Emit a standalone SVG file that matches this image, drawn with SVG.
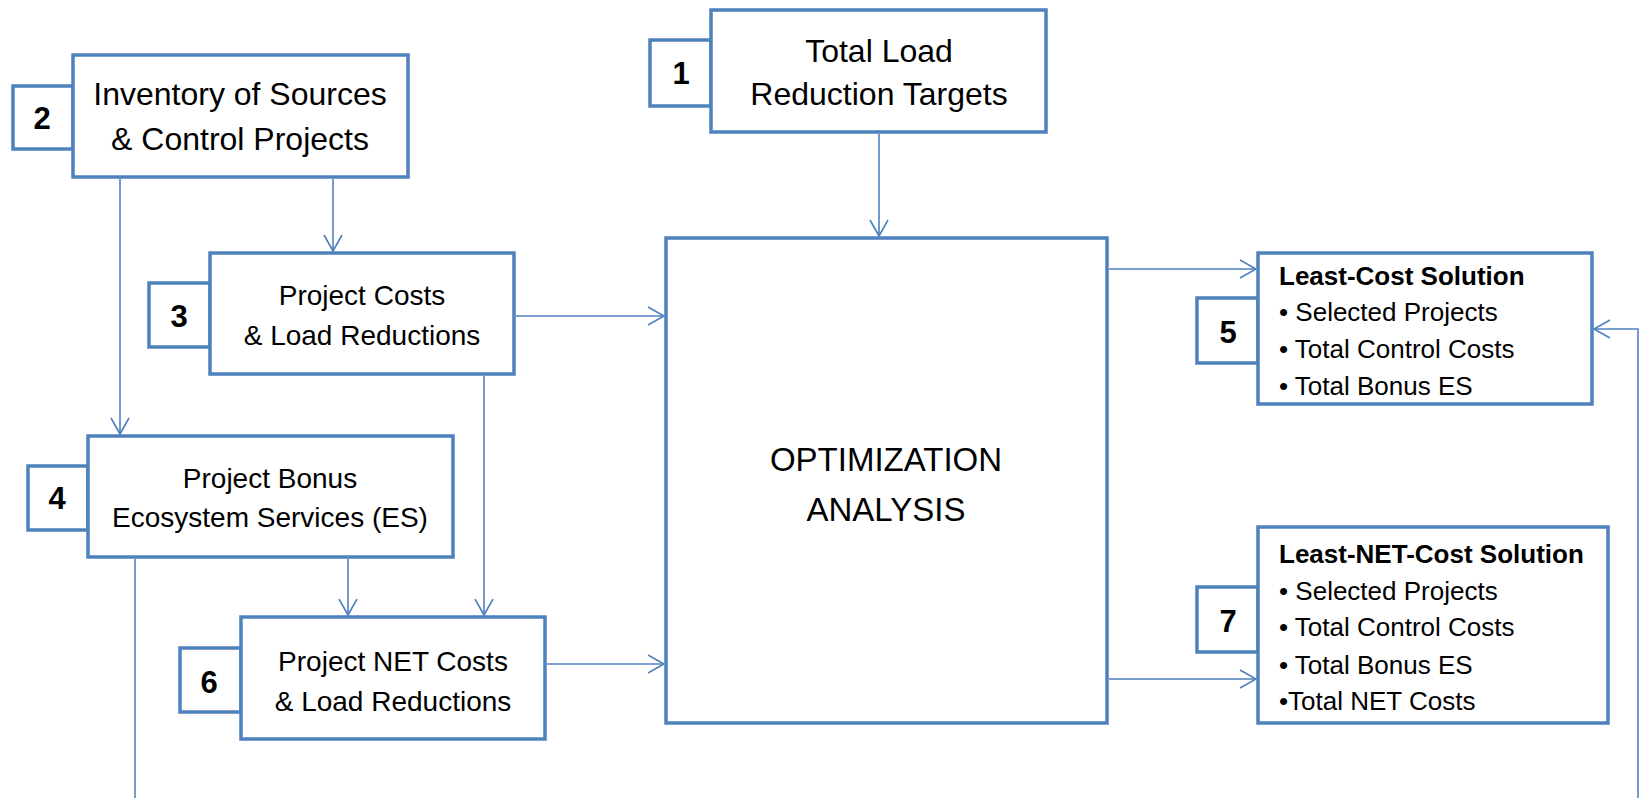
<svg xmlns="http://www.w3.org/2000/svg" width="1639" height="798" viewBox="0 0 1639 798">
<style>
.box{fill:#fff;stroke:#4F81BD;stroke-width:3.5}
.ln{fill:none;stroke:#4F81BD;stroke-width:1.6}
.t{font-family:"Liberation Sans",Arial,sans-serif;fill:#000}
.c{text-anchor:middle}
.num{font-family:"Liberation Sans",Arial,sans-serif;font-weight:bold;font-size:31px;text-anchor:middle;fill:#000}
.s32{font-size:32px}
.s28{font-size:28px}
.s26{font-size:26px}
.b{font-weight:bold}
</style>
<defs>
<marker id="arr" markerUnits="userSpaceOnUse" markerWidth="20" markerHeight="22" refX="16" refY="10" orient="auto" overflow="visible">
<path d="M0,1 L16,10 L0,19" fill="none" stroke="#4F81BD" stroke-width="1.6"/>
</marker>
</defs>
<rect width="1639" height="798" fill="#fff"/>
<g id="connectors">
<line class="ln" x1="879" y1="134" x2="879" y2="236" marker-end="url(#arr)"/>
<line class="ln" x1="333" y1="179" x2="333" y2="251" marker-end="url(#arr)"/>
<line class="ln" x1="120" y1="179" x2="120" y2="434" marker-end="url(#arr)"/>
<line class="ln" x1="516" y1="316" x2="664" y2="316" marker-end="url(#arr)"/>
<line class="ln" x1="484" y1="376" x2="484" y2="615" marker-end="url(#arr)"/>
<line class="ln" x1="348" y1="559" x2="348" y2="615" marker-end="url(#arr)"/>
<line class="ln" x1="135" y1="559" x2="135" y2="798"/>
<line class="ln" x1="547" y1="664" x2="664" y2="664" marker-end="url(#arr)"/>
<line class="ln" x1="1109" y1="269" x2="1256" y2="269" marker-end="url(#arr)"/>
<line class="ln" x1="1109" y1="679" x2="1256" y2="679" marker-end="url(#arr)"/>
<polyline class="ln" points="1638,798 1638,329 1594,329" marker-end="url(#arr)"/>
</g>
<g id="node1">
<rect class="box" x="650" y="40" width="61" height="66"/>
<rect class="box" x="711" y="10" width="335" height="122"/>
<text class="num" x="681" y="84">1</text>
<text class="t s32 c" x="879" y="62">Total Load</text>
<text class="t s32 c" x="879" y="105">Reduction Targets</text>
</g>
<g id="node2">
<rect class="box" x="13" y="86" width="60" height="63"/>
<rect class="box" x="73" y="55" width="335" height="122"/>
<text class="num" x="42" y="129">2</text>
<text class="t s32 c" x="240" y="105">Inventory of Sources</text>
<text class="t s32 c" x="240" y="150">&amp; Control Projects</text>
</g>
<g id="node3">
<rect class="box" x="149" y="283" width="61" height="64"/>
<rect class="box" x="210" y="253" width="304" height="121"/>
<text class="num" x="179" y="327">3</text>
<text class="t s28 c" x="362" y="305">Project Costs</text>
<text class="t s28 c" x="362" y="345">&amp; Load Reductions</text>
</g>
<g id="node4">
<rect class="box" x="28" y="466" width="60" height="64"/>
<rect class="box" x="88" y="436" width="365" height="121"/>
<text class="num" x="57" y="509">4</text>
<text class="t s28 c" x="270" y="488">Project Bonus</text>
<text class="t s28 c" x="270" y="527">Ecosystem Services (ES)</text>
</g>
<g id="node6">
<rect class="box" x="180" y="648" width="61" height="64"/>
<rect class="box" x="241" y="617" width="304" height="122"/>
<text class="num" x="209" y="693">6</text>
<text class="t s28 c" x="393" y="671">Project NET Costs</text>
<text class="t s28 c" x="393" y="711">&amp; Load Reductions</text>
</g>
<g id="opt">
<rect class="box" x="666" y="238" width="441" height="485"/>
<text class="t c" font-size="33" x="886" y="471">OPTIMIZATION</text>
<text class="t c" font-size="33" x="886" y="521">ANALYSIS</text>
</g>
<g id="node5">
<rect class="box" x="1197" y="298" width="61" height="65"/>
<rect class="box" x="1258" y="253" width="334" height="151"/>
<text class="num" x="1228" y="343">5</text>
<text class="t s26 b" x="1279" y="285">Least-Cost Solution</text>
<text class="t s26" x="1279" y="321">• Selected Projects</text>
<text class="t s26" x="1279" y="358">• Total Control Costs</text>
<text class="t s26" x="1279" y="395">• Total Bonus ES</text>
</g>
<g id="node7">
<rect class="box" x="1197" y="587" width="61" height="65"/>
<rect class="box" x="1258" y="527" width="350" height="196"/>
<text class="num" x="1228" y="632">7</text>
<text class="t s26 b" x="1279" y="563">Least-NET-Cost Solution</text>
<text class="t s26" x="1279" y="600">• Selected Projects</text>
<text class="t s26" x="1279" y="636">• Total Control Costs</text>
<text class="t s26" x="1279" y="674">• Total Bonus ES</text>
<text class="t s26" x="1279" y="710">•Total NET Costs</text>
</g>
</svg>
